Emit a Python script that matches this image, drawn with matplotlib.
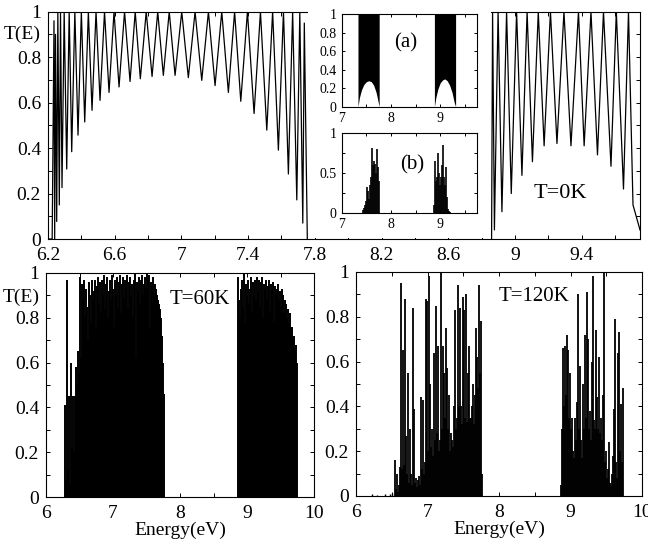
import numpy as np
import matplotlib
matplotlib.use("Agg")
import matplotlib.pyplot as plt
from matplotlib.patches import Rectangle
from matplotlib.ticker import FixedLocator, MultipleLocator, FormatStrFormatter

plt.rcParams['font.family'] = 'serif'
plt.rcParams['font.serif'] = ['Liberation Serif', 'DejaVu Serif']

# ---- T = 0 K, transmission extrema of the two bands ----
left_peak_e = [6.236, 6.245, 6.259, 6.275, 6.297, 6.327, 6.361, 6.400, 6.442, 6.488,
               6.539, 6.596, 6.659, 6.723, 6.789, 6.858, 6.927, 7.002, 7.082, 7.162,
               7.242, 7.319, 7.396, 7.474, 7.547, 7.612, 7.667, 7.710, 7.737]
left_peak_t = [0.96, 0.90, 1, 1, 1, 1, 1, 1, 1, 1,
               1, 1, 1, 1, 1, 1, 1, 1, 1, 1,
               1, 1, 1, 1, 1, 1, 1, 1, 0.95]
left_min_e = [6.200, 6.225, 6.240, 6.2522, 6.2678, 6.284, 6.3122, 6.3422, 6.380, 6.4202,
              6.464, 6.512, 6.566, 6.626, 6.692, 6.7537, 6.824, 6.8917, 6.962, 7.0416,
              7.122, 7.2018, 7.2816, 7.356, 7.4357, 7.512, 7.5815, 7.6415, 7.6919, 7.7279,
              7.755]
left_min_t = [0, 0, 0, 0.077, 0.15, 0.226, 0.308, 0.384, 0.457, 0.515,
              0.566, 0.61, 0.645, 0.669, 0.693, 0.705, 0.715, 0.72, 0.72, 0.71,
              0.698, 0.675, 0.645, 0.606, 0.552, 0.479, 0.391, 0.286, 0.172, 0.07,
              0]
right_peak_e = [8.866, 8.899, 8.950, 9.010, 9.073, 9.140, 9.213, 9.294, 9.381, 9.456,
                9.531, 9.608, 9.681]
right_peak_t = [1] * 13
right_min_e = [8.860, 8.877, 8.922, 8.978, 9.042, 9.105, 9.175, 9.252, 9.336, 9.415,
               9.495, 9.576, 9.651, 9.708, 9.750]
right_min_t = [0, 0.04, 0.12, 0.20, 0.28, 0.34, 0.41, 0.42, 0.41, 0.41,
               0.37, 0.32, 0.22, 0.15, 0.04]

# ---- inset (a): lower envelope of the dense bands, top is T=1 ----
ina_e1 = [7.33, 7.36, 7.40, 7.45, 7.50, 7.55, 7.60, 7.65, 7.70, 7.74, 7.76]
ina_lo1 = [0, 0.10, 0.18, 0.24, 0.27, 0.28, 0.27, 0.23, 0.15, 0.05, 0]
ina_e2 = [8.88, 8.91, 8.95, 9.00, 9.05, 9.09, 9.14, 9.19, 9.24, 9.28, 9.31]
ina_lo2 = [0, 0.10, 0.19, 0.26, 0.29, 0.30, 0.28, 0.23, 0.15, 0.05, 0]

# ---- inset (b): spikes, 0.02 eV apart ----
inb_start1 = 7.44
inb_t1 = [0.04, 0.07, 0.10, 0.15, 0.33, 0.28, 0.18, 0.35, 0.45, 0.82,
          0.60, 0.65, 0.62, 0.50, 0.80, 0.58, 0.40]
inb_start2 = 8.88
inb_t2 = [0.10, 0.65, 0.40, 0.45, 0.75, 0.50, 0.35, 0.45, 0.60, 0.85,
          0.45, 0.35, 0.58, 0.20, 0.05, 0.03, 0.02, 0.01, 0.01]

# ---- T = 60 K, spike heights on a 0.0149 eV grid ----
k60_start1 = 6.28
k60_t1 = [0.41, 0.08, 0.97, 0.12, 0.45, 0.06, 0.60, 0.22, 0.45, 0.20,
          0.45, 0.58, 0.50, 0.65, 0.55, 0.98, 0.62, 0.95, 0.88, 0.97,
          0.80, 0.93, 0.85, 0.70, 0.96, 0.90, 0.78, 0.97, 0.88, 0.92,
          0.97, 0.75, 0.94, 0.98, 0.86, 0.96, 0.82, 0.97, 0.90, 0.99,
          0.84, 0.95, 0.98, 0.80, 0.92, 0.97, 0.88, 0.99, 0.93, 0.76,
          0.97, 0.90, 0.98, 0.85, 0.96, 0.99, 0.82, 0.95, 0.98, 0.89,
          0.97, 0.93, 0.99, 0.84, 0.96, 0.98, 0.90, 0.95, 0.80, 0.97,
          1.00, 0.62, 0.96, 0.92, 0.98, 0.86, 0.97, 0.99, 0.90, 0.95,
          0.98, 0.93, 1.00, 0.97, 0.99, 0.75, 0.96, 0.94, 0.98, 0.91,
          0.95, 0.93, 0.90, 0.88, 0.86, 0.84, 0.80, 0.72, 0.60, 0.46]
k60_start2 = 8.87
k60_t2 = [0.98, 0.88, 0.80, 0.93, 0.97, 0.85, 1.00, 0.78, 0.95, 0.90,
          0.97, 0.86, 0.93, 0.98, 0.82, 0.96, 0.90, 0.97, 0.88, 0.98,
          0.92, 0.97, 0.85, 0.96, 0.98, 0.80, 0.95, 0.93, 0.97, 0.88,
          0.94, 0.97, 0.83, 0.95, 0.92, 0.96, 0.78, 0.94, 0.90, 0.93,
          0.95, 0.88, 0.92, 0.85, 0.93, 0.90, 0.82, 0.88, 0.86, 0.80,
          0.84, 0.78, 0.82, 0.75, 0.76, 0.70, 0.72, 0.65, 0.68, 0.60]

# ---- T = 120 K, spike heights on a 0.014 eV grid ----
k120_tail_e = [6.22, 6.30, 6.40, 6.47, 6.51]
k120_tail_t = [0.01, 0.005, 0.008, 0.01, 0.015]
k120_start1 = 6.54
k120_t1 = [0.16, 0.03, 0.10, 0.02, 0.05, 0.13, 0.95, 0.12, 0.65, 0.14,
           0.88, 0.27, 0.10, 0.55, 0.06, 0.30, 0.10, 0.05, 0.84, 0.39,
           0.06, 0.08, 0.04, 0.07, 0.09, 0.05, 0.44, 0.12, 0.43, 0.10,
           0.15, 0.88, 0.87, 0.20, 0.98, 0.50, 0.22, 0.30, 0.18, 0.64,
           0.25, 0.85, 0.28, 0.67, 0.20, 0.25, 1.00, 0.30, 0.67, 0.55,
           0.35, 0.75, 0.57, 0.30, 0.45, 0.20, 0.28, 0.25, 0.22, 0.40,
           0.83, 0.30, 0.35, 0.94, 0.40, 0.84, 0.40, 0.32, 0.89, 0.83,
           0.35, 0.90, 0.33, 0.55, 0.67, 0.35, 0.35, 0.40, 0.50, 0.32,
           0.45, 0.75, 0.62, 0.48, 0.94, 0.55, 0.78, 0.10]
k120_start2 = 8.87
k120_t2 = [0.05, 0.30, 0.66, 0.40, 0.67, 0.45, 0.72, 0.65, 0.35, 0.55,
           0.30, 0.35, 0.20, 0.17, 0.35, 0.25, 0.42, 0.90, 0.30, 0.58,
           0.25, 0.17, 0.50, 0.30, 0.72, 0.35, 0.91, 0.70, 0.30, 0.38,
           0.25, 0.60, 0.98, 0.34, 0.30, 0.74, 0.44, 0.30, 0.62, 0.28,
           0.35, 0.25, 0.45, 1.00, 0.15, 0.20, 0.08, 0.12, 0.24, 0.06,
           0.05, 0.10, 0.18, 0.39, 0.79, 0.15, 0.08, 0.64, 0.73, 0.20,
           0.41, 0.15, 0.48]


def merged(pe, pt, me, mt):
    e = np.array(pe + me)
    t = np.array(pt + mt)
    order = np.argsort(e)
    return e[order], t[order]


def grid(start, step, vals):
    return start + step * np.arange(len(vals)), np.array(vals)


def style(ax, size, length=3.0, xpad=5.5, ypad=5.0):
    ax.tick_params(which='both', direction='in', top=True, right=True,
                   labelsize=size, width=0.7, length=length)
    ax.tick_params(axis='x', which='both', pad=xpad)
    ax.tick_params(axis='y', which='both', pad=ypad)
    ax.xaxis.set_major_formatter(FormatStrFormatter('%g'))
    ax.yaxis.set_major_formatter(FormatStrFormatter('%g'))
    for s in ax.spines.values():
        s.set_linewidth(0.8)


W, H = 648, 541
fig = plt.figure(figsize=(W / 100, H / 100), dpi=100)


def px_axes(x0, y0, x1, y1, **kw):
    return fig.add_axes([x0 / W, 1 - y1 / H, (x1 - x0) / W, (y1 - y0) / H], **kw)


# top panel, T = 0 K
ax0 = px_axes(48, 11.7, 640, 239)
e, t = merged(left_peak_e, left_peak_t, left_min_e, left_min_t)
ax0.plot(e, t, color='black', lw=0.9)
e, t = merged(right_peak_e, right_peak_t, right_min_e, right_min_t)
ax0.plot(e, t, color='black', lw=0.9)
ax0.set_xlim(6.2, 9.75)
ax0.set_ylim(0, 1)
ax0.xaxis.set_major_locator(FixedLocator(np.arange(6.2, 9.7, 0.4)))
ax0.xaxis.set_minor_locator(FixedLocator(np.arange(6.4, 9.7, 0.4)))
ax0.yaxis.set_major_locator(MultipleLocator(0.2))
ax0.yaxis.set_minor_locator(MultipleLocator(0.1))
style(ax0, 14)
ax0.text(-0.012, 0.9, 'T(E)', transform=ax0.get_yaxis_transform(),
         ha='right', va='center', fontsize=14)
ax0.text(9.11, 0.20, 'T=0K', ha='left', va='center', fontsize=16)
# blank area between the bands that holds the insets
ax0.add_patch(Rectangle((7.762, 0.004), 8.858 - 7.762, 1.1, facecolor='white',
                        edgecolor='none', zorder=3, clip_on=False))

# inset (a)
axa = px_axes(341.7, 14, 477.3, 106.7, zorder=5)
axa.fill_between(ina_e1, ina_lo1, 1, color='black', lw=0)
axa.fill_between(ina_e2, ina_lo2, 1, color='black', lw=0)
axa.set_xlim(7, 9.75)
axa.set_ylim(0, 1)
axa.xaxis.set_major_locator(MultipleLocator(1))
axa.xaxis.set_minor_locator(MultipleLocator(0.5))
axa.yaxis.set_major_locator(MultipleLocator(0.2))
style(axa, 10, 2.5, 3.5, 3.5)
axa.text(8.07, 0.69, '(a)', ha='left', va='center', fontsize=15)

# inset (b)
axb = px_axes(341.7, 133.3, 477.3, 213.3, zorder=5)
for start, vals in [(inb_start1, inb_t1), (inb_start2, inb_t2)]:
    e, t = grid(start, 0.02, vals)
    axb.vlines(e, 0, t, color='black', lw=1.2)
axb.set_xlim(7, 9.75)
axb.set_ylim(0, 1)
axb.xaxis.set_major_locator(MultipleLocator(1))
axb.xaxis.set_minor_locator(MultipleLocator(0.5))
axb.yaxis.set_major_locator(MultipleLocator(0.5))
axb.yaxis.set_minor_locator(MultipleLocator(0.25))
style(axb, 10, 2.5, 3.5, 3.5)
axb.text(8.19, 0.60, '(b)', ha='left', va='center', fontsize=15)

# bottom left, T = 60 K
ax1 = px_axes(46, 273, 314, 497)
for start, vals in [(k60_start1, k60_t1), (k60_start2, k60_t2)]:
    e, t = grid(start, 0.0149, vals)
    ax1.vlines(e, 0, t, color='black', lw=1.4)
ax1.set_xlim(6, 10)
ax1.set_ylim(0, 1)
ax1.xaxis.set_major_locator(MultipleLocator(1))
ax1.xaxis.set_minor_locator(MultipleLocator(0.5))
ax1.yaxis.set_major_locator(MultipleLocator(0.2))
ax1.yaxis.set_minor_locator(MultipleLocator(0.1))
style(ax1, 14)
ax1.set_xlabel('Energy(eV)', fontsize=14, labelpad=0)
ax1.text(-0.025, 0.89, 'T(E)', transform=ax1.get_yaxis_transform(),
         ha='right', va='center', fontsize=14)
ax1.text(7.85, 0.88, 'T=60K', ha='left', va='center', fontsize=15)

# bottom right, T = 120 K
ax2 = px_axes(356, 272, 642, 496)
ax2.vlines(k120_tail_e, 0, k120_tail_t, color='black', lw=1.0)
for start, vals in [(k120_start1, k120_t1), (k120_start2, k120_t2)]:
    e, t = grid(start, 0.014, vals)
    ax2.vlines(e, 0, t, color='black', lw=1.3)
ax2.set_xlim(6, 10)
ax2.set_ylim(0, 1)
ax2.xaxis.set_major_locator(MultipleLocator(1))
ax2.xaxis.set_minor_locator(MultipleLocator(0.5))
ax2.yaxis.set_major_locator(MultipleLocator(0.2))
ax2.yaxis.set_minor_locator(MultipleLocator(0.1))
style(ax2, 14)
ax2.set_xlabel('Energy(eV)', fontsize=14, labelpad=0)
ax2.text(7.99, 0.89, 'T=120K', ha='left', va='center', fontsize=15)

fig.savefig('out.png', dpi=100)
